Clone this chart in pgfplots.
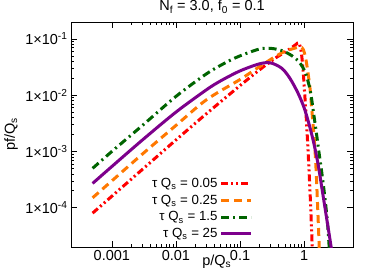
\documentclass[border=0pt]{standalone}
\usepackage{fontspec}
\setmainfont{Liberation Sans}
\usepackage{pgfplots}
\pgfplotsset{compat=1.18}
\definecolor{cred}{RGB}{255,0,0}
\definecolor{corange}{RGB}{255,120,0}
\definecolor{cgreen}{RGB}{0,100,0}
\definecolor{cpurple}{RGB}{125,0,140}
\newcommand{\bigf}{\fontsize{14.5}{17}\selectfont}
\newcommand{\legf}{\fontsize{13.3}{15.5}\selectfont}
\begin{document}
\begin{tikzpicture}[font=\bigf]
\begin{axis}[
  scale only axis, width=282pt, height=225pt,
  xmode=log, ymode=log,
  xmin=2.3e-4, xmax=5.8, ymin=2e-5, ymax=0.2,
  xtick={0.001,0.01,0.1,1}, xticklabels={0.001,0.01,0.1,1},
  ytick={1e-4,1e-3,1e-2,1e-1},
  yticklabels={1×10\textsuperscript{-4},1×10\textsuperscript{-3},1×10\textsuperscript{-2},1×10\textsuperscript{-1}},
  tick label style={font=\bigf},
  tick align=inside, major tick length=6pt, minor tick length=3pt,
  axis line style={black, line width=0.8pt},
  every tick/.style={black, line width=0.6pt},
  title={N\textsubscript{f} = 3.0, f\textsubscript{0} = 0.1},
  title style={font=\bigf, at={(axis description cs:0.5,1)}, anchor=base, yshift=5pt},
  xlabel={p/Q\textsubscript{s}},
  xlabel style={font=\bigf, at={(axis description cs:0.517,0)}, anchor=base, yshift=-18pt},
  ylabel={pf/Q\textsubscript{s}},
  ylabel style={font=\bigf, at={(axis description cs:-0.199,0.5)}, anchor=base},
  legend style={font=\legf, draw=none, fill=none, at={(0.655,0.325)}, anchor=north east,
    row sep=2pt, /tikz/every even column/.append style={column sep=4pt}},
  legend cell align=right, legend plot pos=right,
  legend image code/.code={\draw[#1] (0pt,0pt) -- (30pt,0pt);},
]
\addplot[cred, line width=3pt, smooth, dash pattern=on 7pt off 3pt on 2pt off 3pt on 2pt off 3pt] coordinates {
(5e-4,8e-5) (1e-3,1.6e-4) (3e-3,4.8e-4) (0.01,1.6e-3) (0.03,4.7e-3) (0.1,0.0148)
(0.2,0.028) (0.35,0.045) (0.5,0.058) (0.65,0.071) (0.75,0.08) (0.83,0.085)
(0.9,0.06) (0.96,0.03) (1.02,0.011) (1.08,4e-3) (1.13,1.6e-3) (1.19,5e-4)
(1.25,1.5e-4) (1.3,5e-5) (1.34,2e-5) (1.38,1e-5)
};
\addlegendentry{τ Q\textsubscript{s} = 0.05}
\addplot[corange, line width=3pt, smooth, dash pattern=on 8pt off 5pt] coordinates {
(5e-4,1.5e-4) (1e-3,3e-4) (3e-3,9e-4) (0.01,2.9e-3) (0.03,8.3e-3) (0.1,0.019)
(0.2,0.032) (0.35,0.048) (0.5,0.06) (0.7,0.068) (0.87,0.072) (0.97,0.065)
(1.06,0.045) (1.15,0.025) (1.24,0.013) (1.32,5.5e-3) (1.4,2.5e-3) (1.47,1.2e-3)
(1.55,4e-4) (1.63,1e-4) (1.71,2.5e-5) (1.76,1e-5)
};
\addlegendentry{τ Q\textsubscript{s} = 0.25}
\addplot[cgreen, line width=3pt, smooth, dash pattern=on 8pt off 4pt on 2pt off 4pt] coordinates {
(5e-4,5e-4) (1e-3,1e-3) (3e-3,2.9e-3) (0.01,9.5e-3) (0.03,0.024) (0.06,0.038)
(0.1,0.05) (0.2,0.066) (0.3,0.068) (0.45,0.062) (0.65,0.05) (0.85,0.038)
(1.05,0.025) (1.25,0.012) (1.4,5e-3) (1.55,2.2e-3) (1.7,1e-3) (1.9,4e-4)
(2.1,1.6e-4) (2.3,6e-5) (2.45,2.2e-5) (2.55,1e-5)
};
\addlegendentry{τ Q\textsubscript{s} = 1.5}
\addplot[cpurple, line width=3pt, smooth] coordinates {
(5e-4,2.7e-4) (1e-3,5.4e-4) (3e-3,1.6e-3) (0.01,5e-3) (0.03,0.0125) (0.05,0.018)
(0.1,0.027) (0.2,0.036) (0.3,0.0375) (0.45,0.03) (0.6,0.02) (0.8,0.011)
(1.0,6e-3) (1.2,3e-3) (1.4,1.5e-3) (1.65,6e-4) (1.9,2.2e-4) (2.15,9e-5)
(2.45,3.5e-5) (2.75,1.5e-5)
};
\addlegendentry{τ Q\textsubscript{s} = 25}
\end{axis}
\pgfresetboundingbox
\path (current axis.south west) ++(-71pt,-33pt) rectangle ++(374pt,280pt);
\end{tikzpicture}
\end{document}
